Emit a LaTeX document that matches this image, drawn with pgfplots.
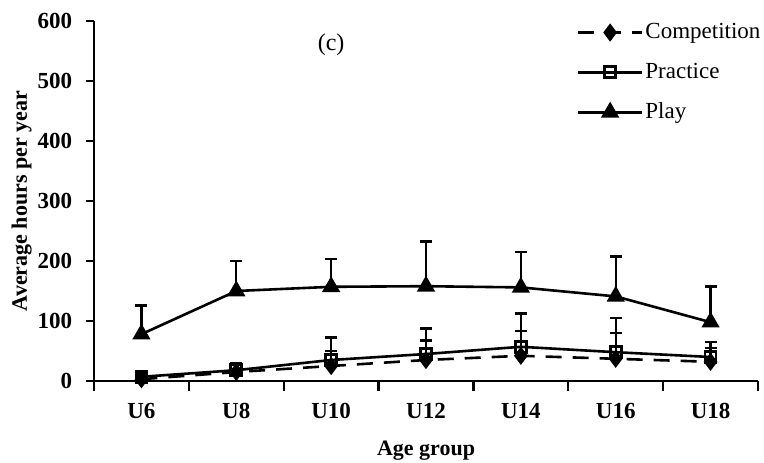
\documentclass[border=0pt]{standalone}
\usepackage{fontspec}
\setmainfont{Liberation Serif}
\usepackage{pgfplots}
\pgfplotsset{compat=1.18}
\begin{document}
\fontsize{23}{27}\selectfont
\begin{tikzpicture}
\begin{axis}[
  scale only axis,
  width=664pt, height=360pt,
  xmin=-0.5, xmax=6.5, ymin=0, ymax=600,
  axis lines*=left,
  axis line style={line width=2.6pt, -},
  every tick/.style={black, line width=2.4pt},
  tick align=outside,
  major tick length=8pt, minor tick length=10pt,
  xtick={0,...,6},
  xticklabels={U6,U8,U10,U12,U14,U16,U18},
  minor xtick={-0.5,0.5,...,6.5},
  major x tick style={draw=none},
  ytick={0,100,...,600},
  /pgf/number format/assume math mode=true,
  tick label style={font=\fontsize{23}{27}\selectfont\bfseries},
  yticklabel style={xshift=-6pt},
  xticklabel style={yshift=-6pt},
  xlabel={\textbf{Age group}},
  ylabel={\textbf{Average hours per year}},
  label style={font=\fontsize{22}{26}\selectfont, inner sep=0pt},
  xlabel style={yshift=-15pt},
  ylabel style={yshift=-2pt},
  legend style={draw=none, fill=none, at={(1.007,1.0)}, anchor=north east,
    inner sep=0pt, font=\fontsize{23}{27}\selectfont, row sep=17pt,
    /tikz/every even column/.append style={column sep=4pt}},
  legend cell align=left,
  legend image code/.code={
    \draw[mark repeat=2,mark phase=2,#1] plot coordinates {(0pt,0pt) (32pt,0pt) (64pt,0pt)};
  },
  error bars/y dir=plus,
  error bars/y explicit,
  error bars/error mark=-,
  error bars/error mark options={line width=2.6pt, mark size=6pt, rotate=90},
  error bars/error bar style={line width=2.4pt},
]
\addplot[black, line width=2.6pt, dash pattern=on 16pt off 11pt,
  mark=diamond*, mark size=7pt, mark options={solid, fill=black}]
  coordinates {
  (0,3) +- (0,4)
  (1,15) +- (0,13)
  (2,25) +- (0,25)
  (3,35) +- (0,32)
  (4,42) +- (0,41)
  (5,37) +- (0,43)
  (6,32) +- (0,23)
  };
\addlegendentry{Competition}
\addplot[black, line width=2.6pt,
  mark=square, mark size=5.5pt, mark options={solid, fill=white, line width=2.6pt}]
  coordinates {
  (0,7) +- (0,5)
  (1,18) +- (0,12)
  (2,35) +- (0,37)
  (3,45) +- (0,42)
  (4,57) +- (0,55)
  (5,48) +- (0,57)
  (6,40) +- (0,25)
  };
\addlegendentry{Practice}
\addplot[black, line width=2.6pt,
  mark=triangle*, mark size=8pt, mark options={solid, fill=black}]
  coordinates {
  (0,78) +- (0,48)
  (1,150) +- (0,50)
  (2,157) +- (0,46)
  (3,158) +- (0,74)
  (4,156) +- (0,59)
  (5,141) +- (0,66)
  (6,98) +- (0,59)
  };
\addlegendentry{Play}
\node[font=\fontsize{24}{28}\selectfont] at (axis cs:2,560) {(c)};
\end{axis}
\path (-94pt,-82pt) rectangle (670pt,381pt);
\end{tikzpicture}
\end{document}
